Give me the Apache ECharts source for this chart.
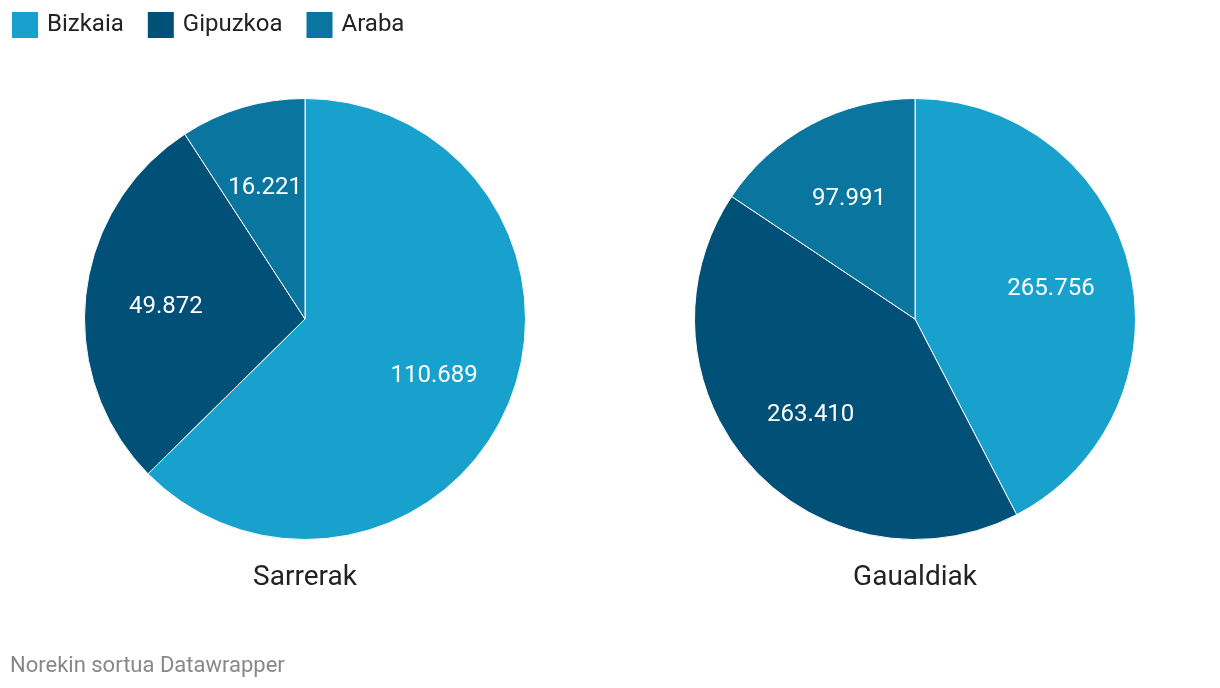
<!DOCTYPE html>
<html><head><meta charset="utf-8">
<script src="https://cdn.jsdelivr.net/npm/echarts@6/dist/echarts.min.js"></script>
<style>html,body{margin:0;padding:0;background:#fff}#c{width:1220px;height:688px}</style>
</head><body><div id="c"></div>
<script>
const categories = ['Bizkaia', 'Gipuzkoa', 'Araba'];
const colors = ['#18a1cd', '#005077', '#0a76a0'];
const chartTitles = ['Sarrerak', 'Gaualdiak'];
const sarrerak = [110689, 49872, 16221];
const gaualdiak = [265756, 263410, 97991];
const footer = 'Norekin sortua Datawrapper';

const fmt = v => String(v).replace(/\B(?=(\d{3})+(?!\d))/g, '.');
const FONT = 'Roboto';
const centers = [[305, 319], [915, 319]];
const R = 220.5;

function mk(vals) { return categories.map((c, i) => ({ name: c, value: vals[i], itemStyle: { color: colors[i] } })); }

const series = [];
[sarrerak, gaualdiak].forEach((vals, k) => {
  series.push({
    type: 'pie', center: centers[k], radius: [0, R], startAngle: 90, clockwise: true,
    data: mk(vals), label: { show: false }, labelLine: { show: false },
    itemStyle: { borderColor: '#fff', borderWidth: 1 }, emphasis: { disabled: true }, animation: false
  });
});
[sarrerak, gaualdiak].forEach((vals, k) => {
  series.push({
    type: 'pie', center: centers[k], radius: [0, 274], startAngle: 90, clockwise: true, silent: true,
    data: categories.map((c, i) => ({ name: c, value: vals[i], itemStyle: { color: 'rgba(0,0,0,0)' } })),
    itemStyle: { borderWidth: 0 }, labelLine: { show: false },
    label: { show: true, position: 'inside', offset: [0, 3], formatter: p => fmt(p.value), color: '#fff', fontFamily: FONT, fontSize: 24 },
    emphasis: { disabled: true }, animation: false, legendHoverLink: false
  });
});

const chart = echarts.init(document.getElementById('c'), null, { renderer: 'canvas' });
chart.setOption({
  backgroundColor: '#fff',
  animation: false,
  legend: {
    data: categories, left: 10, top: 10, padding: 0, itemWidth: 28, itemHeight: 28, itemGap: 22, icon: 'rect',
    textStyle: { fontFamily: FONT, fontSize: 24, color: '#222', padding: [0, 0, 0, 3] }
  },
  title: chartTitles.map((t, k) => ({
    text: t, left: centers[k][0], top: 564, textAlign: 'center', padding: 0,
    textStyle: { fontFamily: FONT, fontSize: 28, fontWeight: 'normal', color: '#222' }
  })),
  graphic: [{ type: 'text', left: 10, top: 655, style: { text: footer, fontFamily: FONT, fontSize: 22, fill: '#888' } }],
  series
});
</script></body></html>
